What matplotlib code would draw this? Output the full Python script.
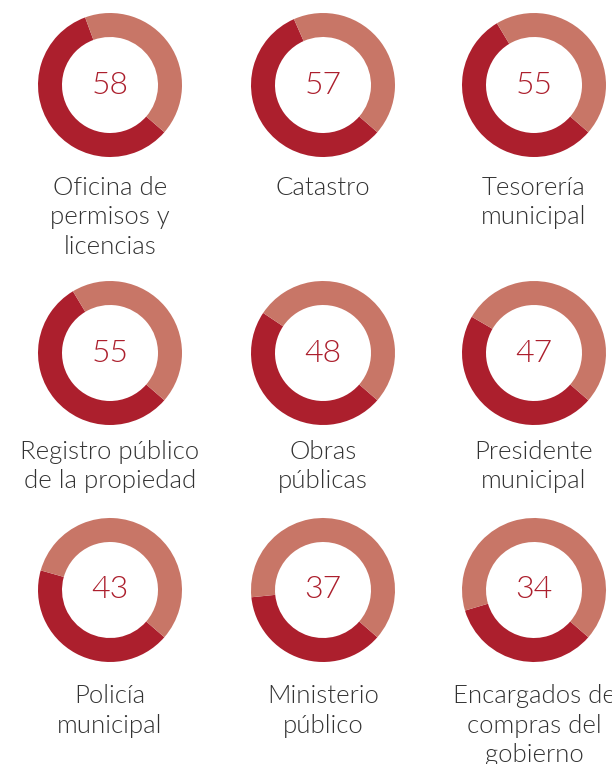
import matplotlib
matplotlib.use("Agg")
import matplotlib.pyplot as plt

# Data
categories = [
    "Oficina de\npermisos y\nlicencias",
    "Catastro",
    "Tesorería\nmunicipal",
    "Registro público\nde la propiedad",
    "Obras\npúblicas",
    "Presidente\nmunicipal",
    "Policía\nmunicipal",
    "Ministerio\npúblico",
    "Encargados de\ncompras del\ngobierno",
]
values = [58, 57, 55, 55, 48, 47, 43, 37, 34]

DARK = "#AC1F2D"
LIGHT = "#C87667"
TEXT = "#333333"
FONT = ["Lato", "DejaVu Sans"]

W, H = 612, 764
fig = plt.figure(figsize=(W / 100, H / 100), dpi=100)
fig.patch.set_facecolor("white")

col_x = [110, 323, 534]
row_y = [85, 353, 590]
label_y = [188, 452, 696]
R = 72.0      # outer radius in px
half = 76.0   # half axes size in px
line_h = 29.5

for i, (cat, v) in enumerate(zip(categories, values)):
    r, c = divmod(i, 3)
    cx, cy = col_x[c], row_y[r]
    ax = fig.add_axes([(cx - half) / W, 1 - (cy + half) / H, 2 * half / W, 2 * half / H])
    ax.pie([v, 100 - v], startangle=-41, counterclock=False,
           colors=[DARK, LIGHT], radius=1.0,
           wedgeprops=dict(width=1 / 3, linewidth=0))
    lim = half / R
    ax.set_xlim(-lim, lim)
    ax.set_ylim(-lim, lim)
    ax.set_aspect("equal")
    ax.axis("off")
    ax.text(0, 0, str(v), ha="center", va="center", color=DARK,
            fontsize=23, family=FONT, fontweight=300)
    for j, line in enumerate(cat.split("\n")):
        y = label_y[r] + j * line_h
        fig.text(cx / W, 1 - y / H, line, ha="center", va="center",
                 color=TEXT, fontsize=18.5, family=FONT, fontweight=300)

fig.savefig("out.png", dpi=100, facecolor="white")
